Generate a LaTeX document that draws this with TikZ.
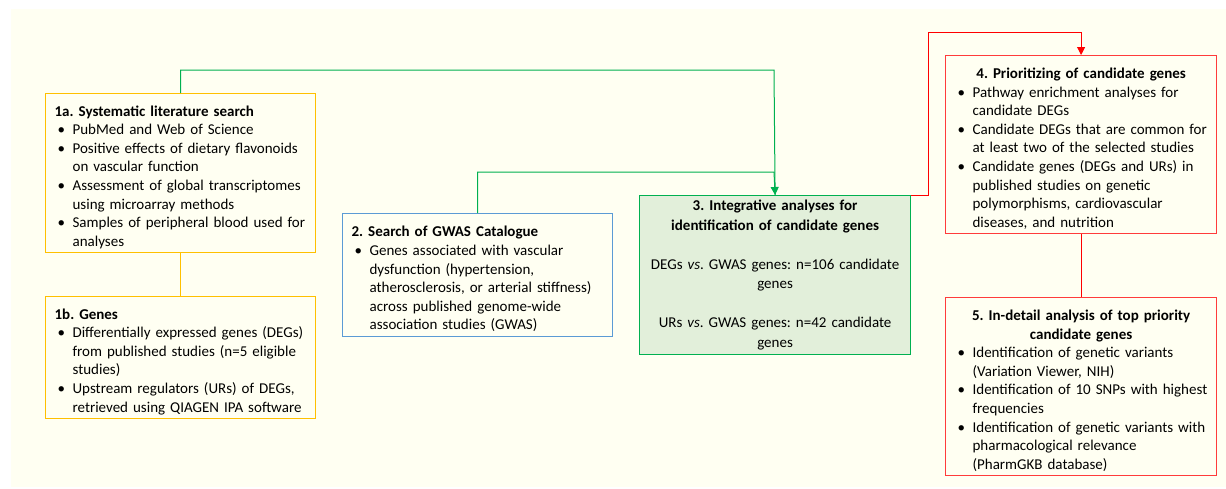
\documentclass[tikz,border=0pt]{standalone}
\usepackage{fontspec}
\setmainfont{Carlito}
\usetikzlibrary{arrows.meta}
\definecolor{bgc}{HTML}{FFFFF2}
\definecolor{yel}{HTML}{FFC000}
\definecolor{blu}{HTML}{5B9BD5}
\definecolor{grn}{HTML}{00B050}
\definecolor{grnfill}{HTML}{E2EFDA}
\definecolor{redb}{HTML}{FF3B3B}
\definecolor{redl}{HTML}{FF0000}
\setlength{\parindent}{0pt}
\frenchspacing
\newcommand\bl[1]{\par\noindent\makebox[18pt][l]{\hspace{3pt}\textbullet}\mbox{#1}\par}
\newcommand\cl[1]{\par\noindent\hspace*{18pt}\mbox{#1}\par}
\newcommand\tl[1]{\par\noindent\mbox{#1}\par}
\newcommand\ctl[1]{\par\noindent\makebox[\linewidth][c]{#1}\par}
\newcommand\boxend{\par\vspace*{5pt}}
\begin{document}
\begin{tikzpicture}[x=1pt,y=-1pt,
  box/.style={draw, line width=1.2pt, fill=bgc, anchor=north west, inner xsep=9pt, inner ysep=0pt,
    minimum width=#1, text width=#1-18pt,
    font=\fontsize{15}{18.6}\selectfont\frenchspacing},
  gline/.style={draw=grn, line width=1pt},
  rline/.style={draw=redl, line width=1pt},
  tip/.style={-{Triangle[width=8pt,length=8pt]}}
]
\useasboundingbox (0,0) rectangle (1226,488);
\fill[white] (0,0) rectangle (1226,488);
\fill[bgc] (11,9) rectangle (1226,487);

\node[box=270pt, draw=yel, minimum height=159pt] (b1a) at (45,93) {%
\tl{\textbf{1a. Systematic literature search}}
\bl{PubMed and Web of Science}
\bl{Positive effects of dietary flavonoids}
\cl{on vascular function}
\bl{Assessment of global transcriptomes}
\cl{using microarray methods}
\bl{Samples of peripheral blood used for}
\cl{analyses}\boxend};

\node[box=270pt, draw=yel, minimum height=122pt] (b1b) at (45,296) {%
\tl{\textbf{1b. Genes}}
\bl{Differentially expressed genes (DEGs)}
\cl{from published studies (n=5 eligible}
\cl{studies)}
\bl{Upstream regulators (URs) of DEGs,}
\cl{retrieved using QIAGEN IPA software}\boxend};

\node[box=270pt, draw=blu, minimum height=123pt] (b2) at (342,213) {%
\tl{\textbf{2. Search of GWAS Catalogue}}
\bl{Genes associated with vascular}
\cl{dysfunction (hypertension,}
\cl{atherosclerosis, or arterial stiffness)}
\cl{across published genome-wide}
\cl{association studies (GWAS)}\boxend};

\node[box=271pt, draw=grn, fill=grnfill, minimum height=159pt, align=center,
  font=\fontsize{15}{19.5}\selectfont\frenchspacing] (b3) at (639,195) {%
\textbf{3. Integrative analyses for}\\\textbf{identification of candidate genes}\\[19.5pt]
DEGs \textit{vs}. GWAS genes: n=106 candidate\\genes\\[19.5pt]
URs \textit{vs}. GWAS genes: n=42 candidate\\genes};

\node[box=271pt, draw=redb, minimum height=178pt] (b4) at (945,55) {%
\ctl{\textbf{4. Prioritizing of candidate genes}}
\bl{Pathway enrichment analyses for}
\cl{candidate DEGs}
\bl{Candidate DEGs that are common for}
\cl{at least two of the selected studies}
\bl{Candidate genes (DEGs and URs) in}
\cl{published studies on genetic}
\cl{polymorphisms, cardiovascular}
\cl{diseases, and nutrition}\boxend};

\node[box=271pt, draw=redb, minimum height=178pt] (b5) at (945,297) {%
\ctl{\textbf{5. In-detail analysis of top priority}}
\ctl{\textbf{candidate genes}}
\bl{Identification of genetic variants}
\cl{(Variation Viewer, NIH)}
\bl{Identification of 10 SNPs with highest}
\cl{frequencies}
\bl{Identification of genetic variants with}
\cl{pharmacological relevance}
\cl{(PharmGKB database)}\boxend};

\coordinate (g1) at (774,70);
\coordinate (g2) at (774,172);
\coordinate (r1) at (928,32);

\draw[draw=yel, line width=1.2pt] (b1a.south) -- (b1b.north);
\draw[gline] (b1a.north) |- (g1) -- (b3.north);
\draw[gline, tip] (b2.north) |- (g2) -- (b3.north);
\draw[rline, tip] (b3.north east) -| (r1) -| (b4.north);
\draw[rline] (b4.south) -- (b5.north);
\end{tikzpicture}
\end{document}
